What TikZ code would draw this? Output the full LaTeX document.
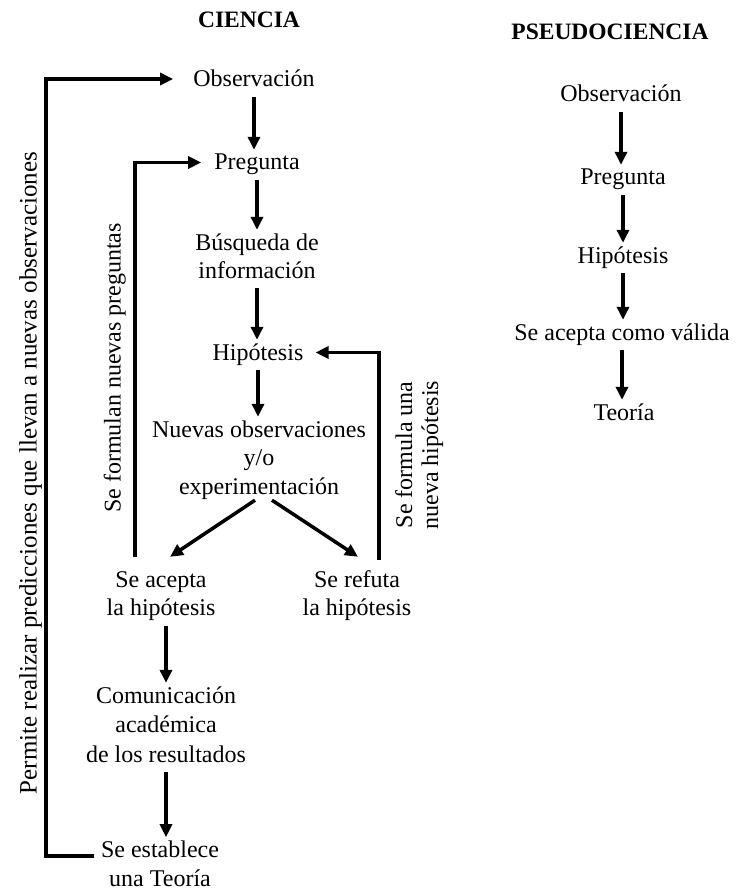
\documentclass[tikz,border=0pt]{standalone}
\usepackage{fontspec}
\setmainfont{Liberation Serif}
\usetikzlibrary{arrows.meta,calc}
% fixed line height for every text line: 17pt above the baseline, 6pt below
\newcommand\mystrut{\rule[-6pt]{0pt}{23pt}}
% same height, no depth (for a last line without descenders)
\newcommand\topstrut{\rule{0pt}{17pt}}
\begin{document}
\begin{tikzpicture}[x=1pt,y=-1pt,
  txt/.style={inner sep=0pt, align=center, font={\fontsize{24}{28.5}\selectfont}},
  head/.style={inner sep=0pt, font={\fontsize{23.5}{28}\selectfont\bfseries}},
  link/.style={line width=3.5pt, -{Triangle[length=13pt,width=12pt]}},
  flow/.style={link, shorten <=4pt, shorten >=3pt},
]
\useasboundingbox[fill=white] (0,0) rectangle (735,890);

% headings
\node[head] (cien) at (249,22.5) {\mystrut CIENCIA};
\node[head] (pseu) at (610,34.5) {\mystrut PSEUDOCIENCIA};

% scientific method
\node[txt] (obs)  at (254,81.5)  {\mystrut Observación};
\node[txt] (preg) at (257,164.5) {\mystrut Pregunta};
\node[txt, font={\fontsize{24}{28}\selectfont}] (bus) at (257,258.5)
  {\mystrut Búsqueda de\\\mystrut información};
\node[txt] (hip)  at (258,354.5) {\mystrut Hipótesis};
\node[txt] (nuev) at (259,460)
  {\mystrut Nuevas observaciones\\\mystrut y/o\\\mystrut experimentación};
\node[txt] (acep) at (161,595.75) {\mystrut Se acepta\\\mystrut la hipótesis};
\node[txt] (refu) at (357,595.75) {\mystrut Se refuta\\\mystrut la hipótesis};
\node[txt, font={\fontsize{24}{29.5}\selectfont}] (comu) at (166,727)
  {\mystrut Comunicación\\\mystrut académica\\\mystrut de los resultados};
\node[txt, font={\fontsize{24}{29}\selectfont}] (teor) at (160,863.5)
  {\mystrut Se establece\\\topstrut una Teoría};

% pseudoscience
\node[txt] (pobs)  at (621,96.5)  {\mystrut Observación};
\node[txt] (ppreg) at (623,179.5) {\mystrut Pregunta};
\node[txt] (phip)  at (623,257.5) {\mystrut Hipótesis};
\node[txt] (pacep) at (622,334.5) {\mystrut Se acepta como válida};
\node[txt] (pteor) at (624,414.5) {\mystrut Teoría};

% main sequence
\draw[flow] (obs.south)  -- (obs.south |- preg.north);
\draw[flow] (preg.south) -- (preg.south |- bus.north);
\draw[flow] (bus.south)  -- (bus.south |- hip.north);
\draw[flow] (hip.south)  -- (hip.south |- nuev.north);
\draw[link] ($(nuev.south)+(-4,0)$) -- ($(acep.north)+(9,-13)$);
\draw[link] ($(nuev.south)+(13,0)$) -- ($(refu.north)+(1,-13)$);
\draw[flow] (comu.north |- acep.south) -- (comu.north);
\draw[flow] (comu.south) -- (comu.south |- teor.north);

% feedback loops
\draw[link] ($(acep.north)+(-26,-13)$) |- ($(preg.west)+(-13,-2)$);
\draw[link] ($(refu.north)+(22,-10)$) |- ($(hip.east)+(12,-2)$);
\draw[link] ($(teor.north west)+(-7,16)$) -- ++(-48,0) |- ($(obs.west)+(-20,-2.5)$);

% loop labels
\node[txt, rotate=90, font={\fontsize{25}{29}\selectfont}] (lbig) at (31,473)
  {\mystrut Permite realizar predicciones que llevan a nuevas observaciones};
\node[txt, rotate=90] (lpreg) at (115,368) {\mystrut Se formulan nuevas preguntas};
\node[txt, rotate=90, font={\fontsize{24}{26}\selectfont}] (lhip) at (419.5,455)
  {\mystrut Se formula una\\\mystrut nueva hipótesis};

% pseudoscience sequence
\draw[flow] (pobs.south)  -- (pobs.south |- ppreg.north);
\draw[flow] (ppreg.south) -- (ppreg.south |- phip.north);
\draw[flow] (phip.south)  -- (phip.south |- pacep.north);
\draw[flow] (pacep.south) -- (pacep.south |- pteor.north);
\end{tikzpicture}
\end{document}
